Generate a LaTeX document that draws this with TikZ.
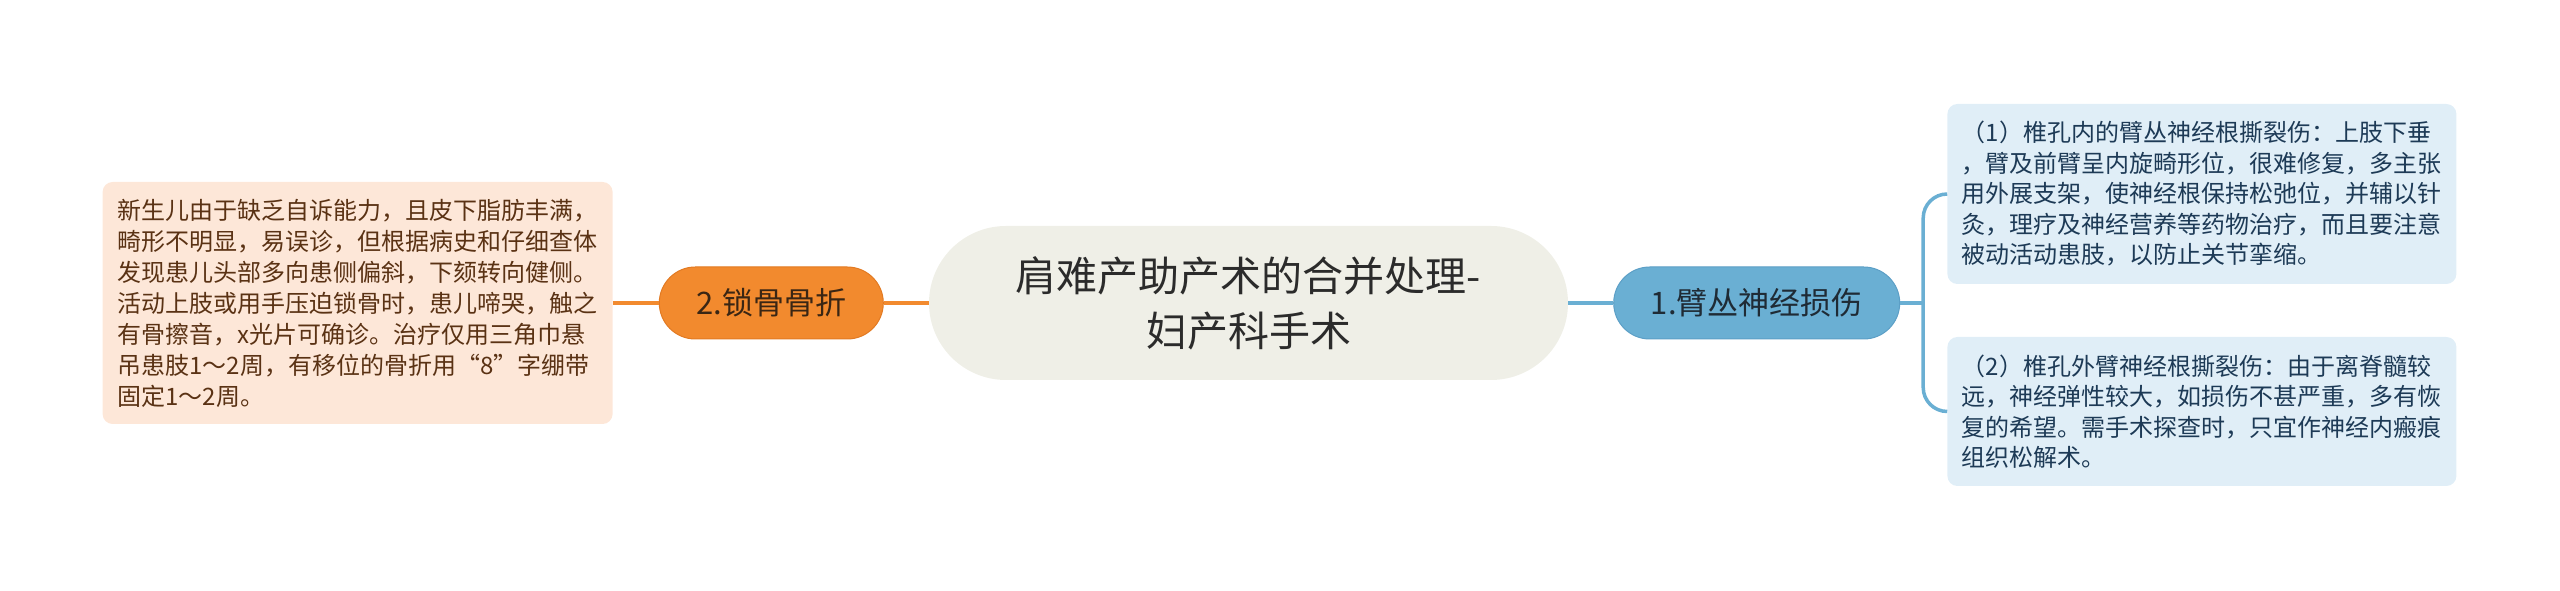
\documentclass[tikz,border=0pt]{standalone}
\usepackage{amsmath}
\usepackage{xcolor}
\usepackage{fontspec}
\setmainfont{Noto Sans CJK SC}
\usepackage{tikz}
\usetikzlibrary{positioning}

\definecolor{rootfill}{HTML}{EFEFE7}
\definecolor{roottext}{HTML}{2B2B2B}
\definecolor{bonefill}{HTML}{F28A2E}
\definecolor{bonedraw}{HTML}{E27A22}
\definecolor{bonetext}{HTML}{3A2614}
\definecolor{bonenote}{HTML}{FDE7D8}
\definecolor{bonenotetext}{HTML}{5A3214}
\definecolor{nervefill}{HTML}{6AAFD3}
\definecolor{nervedraw}{HTML}{5C9FC6}
\definecolor{nervetext}{HTML}{1F2B35}
\definecolor{nervenote}{HTML}{E0EEF7}
\definecolor{nervenotetext}{HTML}{1D3A56}

\begin{document}
\begin{tikzpicture}[x=1pt, y=1pt]

\tikzstyle{maintopic} = [rectangle, rounded corners=77pt, minimum width=639pt, minimum height=154pt, align=center, fill=rootfill, text=roottext, font=\fontsize{41}{55}\selectfont]
\tikzstyle{bonetopic} = [rectangle, rounded corners=36pt, minimum width=224pt, minimum height=72pt, text centered, draw=bonedraw, line width=1pt, fill=bonefill, text=bonetext, font=\fontsize{31}{36}\selectfont]
\tikzstyle{nervetopic} = [rectangle, rounded corners=36pt, minimum width=286pt, minimum height=72pt, text centered, draw=nervedraw, line width=1pt, fill=nervefill, text=nervetext, font=\fontsize{31}{36}\selectfont]
\tikzstyle{bonenotebox} = [rectangle, rounded corners=10pt, minimum width=510pt, minimum height=242pt, align=left, fill=bonenote, text=bonenotetext, font=\fontsize{24}{31}\selectfont]
\tikzstyle{nervenotebox} = [rectangle, rounded corners=10pt, minimum width=509pt, align=left, fill=nervenote, text=nervenotetext, font=\fontsize{24}{30.5}\selectfont]
\tikzstyle{boneline} = [line width=3.5pt, draw=bonefill]
\tikzstyle{nerveline} = [line width=3.5pt, draw=nervefill]

\useasboundingbox (0,0) rectangle (2560,591);

% Nodes
\node (root) [maintopic] at (1248.5,288) {肩难产助产术的合并处理-\\妇产科手术};
\node (fracture) [bonetopic, left=45pt of root] {2.锁骨骨折};
\node (fracturenote) [bonenotebox, left=46pt of fracture] {新生儿由于缺乏自诉能力，且皮下脂肪丰满，\\畸形不明显，易误诊，但根据病史和仔细查体\\发现患儿头部多向患侧偏斜，下颏转向健侧。\\活动上肢或用手压迫锁骨时，患儿啼哭，触之\\有骨擦音，x光片可确诊。治疗仅用三角巾悬\\吊患肢1～2周，有移位的骨折用“8”字绷带\\固定1～2周。};
\node (nerve) [nervetopic, right=45pt of root] {1.臂丛神经损伤};
\node (nervenoteA) [nervenotebox, right=47pt of nerve, yshift=109pt, minimum height=180pt] {（1）椎孔内的臂丛神经根撕裂伤：上肢下垂\\，臂及前臂呈内旋畸形位，很难修复，多主张\\用外展支架，使神经根保持松弛位，并辅以针\\灸，理疗及神经营养等药物治疗，而且要注意\\被动活动患肢，以防止关节挛缩。};
\node (nervenoteB) [nervenotebox, right=47pt of nerve, yshift=-108.5pt, minimum height=149pt] {（2）椎孔外臂神经根撕裂伤：由于离脊髓较\\远，神经弹性较大，如损伤不甚严重，多有恢\\复的希望。需手术探查时，只宜作神经内瘢痕\\组织松解术。};
\coordinate (spine) at ([xshift=23pt]nerve.east);

% Connectors
\draw [boneline] (fracturenote) -- (fracture);
\draw [boneline] (fracture) -- (root);
\draw [nerveline] (root) -- (nerve);
\draw [nerveline] (nerve) -- (spine);
\draw [nerveline, rounded corners=24pt] (spine) |- (nervenoteA.west);
\draw [nerveline, rounded corners=24pt] (spine) |- (nervenoteB.west);

\end{tikzpicture}
\end{document}
